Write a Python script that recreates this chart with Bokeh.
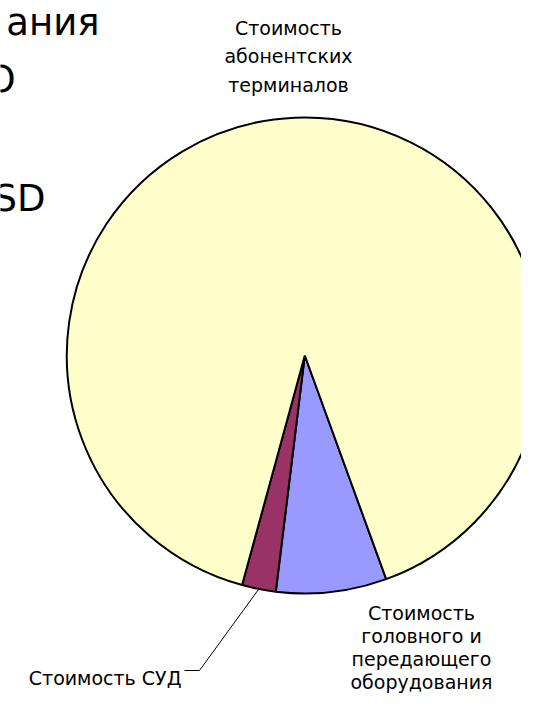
import math
from bokeh.plotting import figure
from bokeh.models import Range1d, ColumnDataSource
from bokeh.core.properties import value
from bokeh.embed import file_html
from bokeh.resources import INLINE

# ---- data ----
segments = ["Стоимость головного и передающего оборудования",
            "Стоимость СУД",
            "Стоимость абонентских терминалов"]
shares = [7.5, 2.3, 90.2]          # percent of total cost
colors = ["#9999FF", "#993366", "#FFFFCC"]

top_label = ["Стоимость", "абонентских", "терминалов"]
head_label = ["Стоимость", "головного и", "передающего", "оборудования"]
sud_label = "Стоимость СУД"
title_fragments = ["ания", "О", "SD"]

# ---- layout (pixel coordinates from the top-left corner) ----
W, H = 521, 695

def Y(sy):  # pixel y (downwards) -> data y
    return H - sy

p = figure(width=W, height=H, output_backend="svg", toolbar_location=None,
           x_range=Range1d(0, W), y_range=Range1d(0, H),
           x_axis_location=None, y_axis_location=None, min_border=0,
           background_fill_color="white", border_fill_color="white")
p.outline_line_color = None
p.grid.visible = False

# pie
cx, cy, r = 304.3, 355.0, 238.0
start_deg = 160.0   # clockwise from 12 o'clock
total = sum(shares)
starts, ends = [], []
acc = start_deg
for s in shares:
    a0 = acc
    a1 = acc + 360.0 * s / total
    starts.append(math.radians(90.0 - a0))
    ends.append(math.radians(90.0 - a1))
    acc = a1
src = ColumnDataSource(dict(x=[cx] * 3, y=[Y(cy)] * 3, start=starts, end=ends,
                            color=colors, name=segments))
p.wedge(x="x", y="y", radius=r, start_angle="start", end_angle="end",
        direction="clock", fill_color="color", line_color="black",
        line_width=2, source=src)

FONT = value("DejaVu Sans")
FS = "19px"

# top label
for i, t in enumerate(top_label):
    p.text(x=[288], y=[Y(27 + 28.5 * i)], text=[t], text_font=FONT,
           text_font_size=FS, text_align="center", text_baseline="alphabetic",
           text_color="black")

# head-end label
for i, t in enumerate(head_label):
    p.text(x=[421], y=[Y(612 + 23.3 * i)], text=[t], text_font=FONT,
           text_font_size=FS, text_align="center", text_baseline="alphabetic",
           text_color="black")

# СУД label and leader line
p.text(x=[181], y=[Y(677)], text=[sud_label], text_font=FONT,
       text_font_size=FS, text_align="right", text_baseline="alphabetic",
       text_color="black")
mid = start_deg + 360.0 * (shares[0] + shares[1] / 2) / total
ex = cx + r * math.sin(math.radians(mid))
ey = cy - r * math.cos(math.radians(mid))
p.line(x=[184, 199, ex], y=[Y(670), Y(670), Y(ey)], line_color="black",
       line_width=1)

# title fragments cut by the left edge
frag_pos = [(99, 22), (15, 79), (45, 198)]
for t, (fx, fy) in zip(title_fragments, frag_pos):
    p.text(x=[fx], y=[Y(fy)], text=[t], text_font=FONT, text_font_size="37px",
           text_align="right", text_baseline="alphabetic", text_color="black")

open("out.html", "w").write(file_html(p, INLINE))
